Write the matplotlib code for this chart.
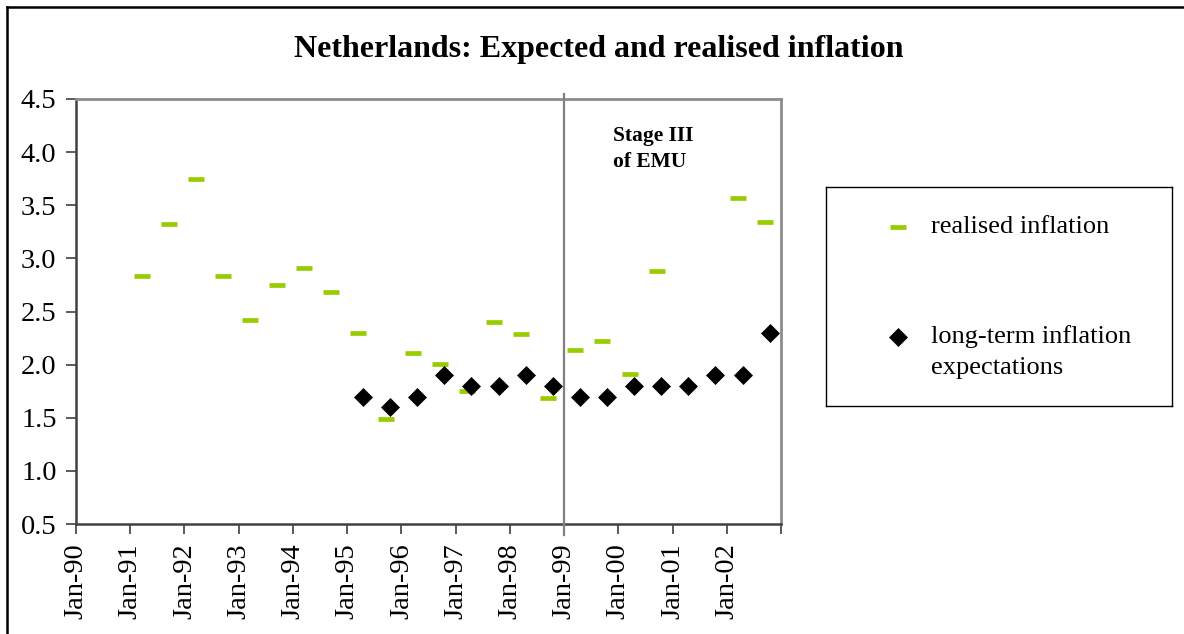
import numpy as np
import matplotlib
matplotlib.use("Agg")
import matplotlib.pyplot as plt
from matplotlib.lines import Line2D
import matplotlib.transforms as mtransforms

# ---------------- data ----------------
realised_dates = ["1991-03", "1991-09", "1992-03", "1992-09", "1993-03", "1993-09",
                  "1994-03", "1994-09", "1995-03", "1995-09", "1996-03", "1996-09",
                  "1997-03", "1997-09", "1998-03", "1998-09", "1999-03", "1999-09",
                  "2000-03", "2000-09", "2001-03", "2001-09", "2002-03", "2002-09"]
realised_values = [2.83, 3.32, 3.75, 2.83, 2.42, 2.75,
                   2.91, 2.68, 2.30, 1.49, 2.11, 2.01,
                   1.75, 2.40, 2.29, 1.69, 2.14, 2.22,
                   1.91, 2.88, np.nan, np.nan, 3.57, 3.34]

expect_dates = ["1995-04", "1995-10", "1996-04", "1996-10", "1997-04", "1997-10",
                "1998-04", "1998-10", "1999-04", "1999-10", "2000-04", "2000-10",
                "2001-04", "2001-10", "2002-04", "2002-10"]
expect_values = [1.7, 1.6, 1.7, 1.9, 1.8, 1.8,
                 1.9, 1.8, 1.7, 1.7, 1.8, 1.8,
                 1.8, 1.9, 1.9, 2.3]

tick_years = list(range(1990, 2004))
tick_labels = ["Jan-90", "Jan-91", "Jan-92", "Jan-93", "Jan-94", "Jan-95", "Jan-96",
               "Jan-97", "Jan-98", "Jan-99", "Jan-00", "Jan-01", "Jan-02", ""]
emu_start = 1999

title = "Netherlands: Expected and realised inflation"
series_names = ["realised inflation", "long-term inflation\nexpectations"]


def to_decimal(d):
    y, m = d.split("-")
    return int(y) + (int(m) - 0.5) / 12.0


rx = np.array([to_decimal(d) for d in realised_dates])
ex = np.array([to_decimal(d) for d in expect_dates])

GREEN = "#99cc00"
SERIF = ["Liberation Serif", "DejaVu Serif"]
plt.rcParams["font.family"] = SERIF

W, H = 1184, 634
fig = plt.figure(figsize=(W / 100, H / 100), dpi=100)
fig.patch.set_facecolor("white")


def px(x0, y0, x1, y1):
    return [x0 / W, 1 - y1 / H, (x1 - x0) / W, (y1 - y0) / H]


DASH = dict(linestyle="none", marker="_", color=GREEN, markersize=12,
            markeredgewidth=3.4)
DIAM = dict(linestyle="none", marker="D", color="black", markersize=9.2,
            markeredgewidth=0.5)

ax = fig.add_axes(px(76, 99, 781, 524))
ax.set_xlim(1990, 2003)
ax.set_ylim(0.5, 4.5)

ax.plot(rx, realised_values, zorder=3, **DASH)
ax.plot(ex, expect_values, zorder=4, **DIAM)

# Stage III line
trans = mtransforms.blended_transform_factory(ax.transData, ax.transAxes)
ax.plot([emu_start, emu_start], [-0.026, 1.012], transform=trans, color="#808080",
        linewidth=1.6, clip_on=False, zorder=5)
ax.text(1999.9, 4.25, "Stage III\nof EMU", fontsize=15.5, fontweight="bold",
        ha="left", va="top", linespacing=1.4)

ax.set_xticks(tick_years)
ax.set_xticklabels(tick_labels, rotation=90)
yt = np.arange(0.5, 4.51, 0.5)
ax.set_yticks(yt)
ax.set_yticklabels([f"{v:.1f}" for v in yt])
ax.tick_params(axis="both", labelsize=20.5, direction="out", length=7,
               width=1.2, color="#404040", pad=7)

for side in ["left", "bottom"]:
    ax.spines[side].set_color("#404040")
    ax.spines[side].set_linewidth(1.8)
for side in ["top", "right"]:
    ax.spines[side].set_color("#8c8c8c")
    ax.spines[side].set_linewidth(2.0)

fig.text(599 / W, 1 - 50 / H, title, fontsize=23, fontweight="bold",
         ha="center", va="center")

# Legend box (pixel-unit axes)
lx0, ly0, lx1, ly1 = 826, 187, 1172, 406
lax = fig.add_axes(px(lx0, ly0, lx1, ly1))
lax.set_xlim(0, lx1 - lx0)
lax.set_ylim(ly1 - ly0, 0)
lax.set_xticks([])
lax.set_yticks([])
for s in lax.spines.values():
    s.set_color("black")
    s.set_linewidth(1.0)
lax.plot([898 - lx0], [227 - ly0], **DASH)
lax.plot([898 - lx0], [337 - ly0], **DIAM)
lax.text(931 - lx0, 227 - ly0, series_names[0], fontsize=19, ha="left", va="center")
for i, line in enumerate(series_names[1].split("\n")):
    lax.text(931 - lx0, 337 - ly0 + 31 * i, line, fontsize=19, ha="left",
             va="center")

# outer frame (top and left edges)
fig.add_artist(Line2D([7 / W, 7 / W], [0, 1 - 7 / H], transform=fig.transFigure,
                      color="black", linewidth=1.8))
fig.add_artist(Line2D([7 / W, 1], [1 - 7 / H, 1 - 7 / H], transform=fig.transFigure,
                      color="black", linewidth=1.8))

fig.savefig("out.png", dpi=100)
